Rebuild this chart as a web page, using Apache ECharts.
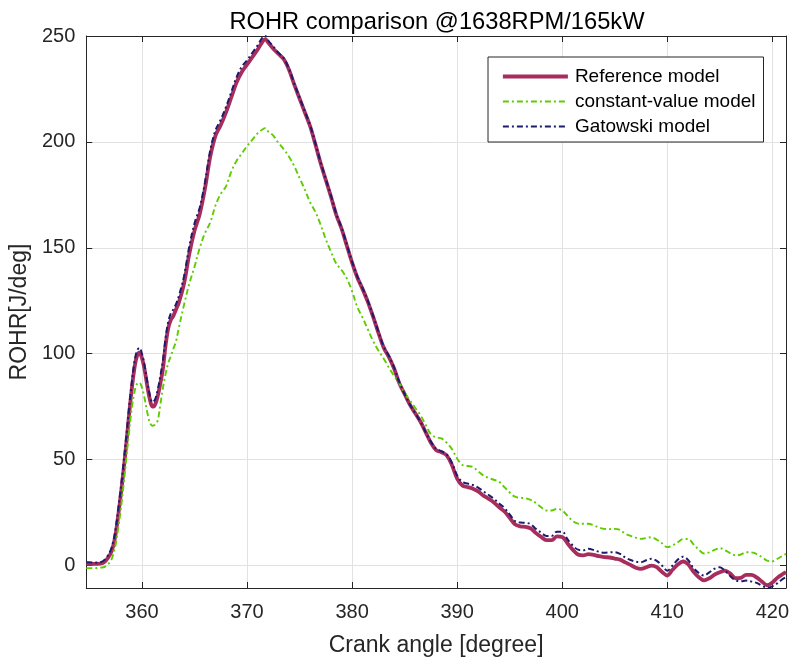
<!DOCTYPE html>
<html>
<head>
<meta charset="utf-8">
<script src="https://cdn.jsdelivr.net/npm/echarts@6/dist/echarts.min.js"></script>
<style>
  html, body { margin: 0; padding: 0; background: #fff; }
  #chart { width: 793px; height: 662px; }
</style>
</head>
<body>
<div id="chart"></div>
<script>
// Crank angle samples [degree]
const angle = [
  354.7, 355, 355.5, 356, 356.5,
  357, 357.25, 357.5, 357.75, 358, 358.25, 358.5, 358.75, 359, 359.25, 359.5, 359.75,
  360, 360.25, 360.5, 360.75, 361, 361.25, 361.5, 361.75, 362, 362.25, 362.5, 362.75,
  363, 363.25, 363.5, 364, 364.5, 365, 365.5, 366, 366.5, 367, 367.5, 368, 368.5,
  369, 369.5, 370, 370.5, 371, 371.5, 371.75, 372, 372.5, 373, 373.5, 374, 374.5,
  375, 375.5, 376, 376.5, 377, 377.5, 378, 378.5, 379, 379.5, 380, 380.5, 381, 381.5,
  382, 382.5, 383, 383.5, 384, 384.5, 385, 385.5, 386, 386.5, 387, 387.5, 388, 388.5,
  389, 389.5, 390, 390.5, 391, 391.5, 392, 392.5, 393, 393.5, 394, 394.5, 395, 395.5,
  396, 396.5, 397, 397.5, 398, 398.5, 399, 399.5, 400, 400.5, 401, 401.5, 402, 402.5,
  403, 403.5, 404, 404.5, 405, 405.5, 406, 406.5, 407, 407.5, 408, 408.5, 409, 409.5,
  410, 410.5, 411, 411.5, 412, 412.5, 413, 413.5, 414, 414.5, 415, 415.5, 416, 416.5,
  417, 417.5, 418, 418.5, 419, 419.5, 420, 420.5, 421, 421.3
];

// Rate of heat release [J/deg], reference model
const referenceModel = [
  0.8, 0.8, 0.8, 0.9, 2,
  5.5, 9, 15, 24, 34, 45, 57, 70, 82, 92, 98.5, 100.5,
  98, 92.5, 85, 78.5, 75, 76, 80, 86, 93, 104, 112, 116,
  118, 121, 124, 133, 147, 158, 166, 178, 193, 203, 208, 214, 221,
  228, 233, 236.5, 240, 243.5, 247.5, 248.5, 247, 244, 241.5, 239, 234, 227,
  220.5, 214, 207.5, 199, 190, 182, 174, 165.5, 159, 151, 143, 136, 130.5, 124.5,
  117.5, 110, 103, 98.5, 93, 86, 81, 76, 72, 68, 63, 58, 54.5, 53.5,
  52, 47.5, 41, 37.8, 37, 36.3, 35, 33, 31.5, 29.8, 27.5, 25.5, 22.5, 19.5,
  18.5, 18.3, 17.5, 15.3, 13.5, 12, 12, 13.8, 13.5, 10.5, 7.5, 5.2, 4.8, 5.4,
  5, 4.4, 4, 3.8, 3.3, 2.8, 1.5, 0.3, -1, -1.6, -0.8, 0, -0.8, -3,
  -4.7, -2, 0.5, 1.9, 0.5, -3, -5.5, -7, -6, -4.3, -3.2, -2.4, -3.8, -6,
  -5.8, -4.4, -4.4, -5.6, -7.5, -9.3, -8, -5.7, -4, -3.1
];

// Rate of heat release [J/deg], constant-value model
const constantValueModel = [
  -1.2, -1.2, -1.2, -1, -0.5,
  2, 5, 10, 18, 27, 38, 50, 62, 73, 81, 85.5, 86.4,
  84, 79, 72.5, 67.5, 66, 66.5, 68.5, 76, 84, 90.5, 95.5, 99,
  102.5, 106, 112, 123, 133, 141, 150, 157, 162, 170, 175.5, 179, 186,
  191, 194.5, 198, 201, 204, 206, 206.5, 205, 203, 199.5, 196.5, 193, 188.5,
  183, 177.5, 171.5, 167, 161, 154, 148, 142.5, 139.5, 135.5, 129.5, 122, 117, 111.5,
  106, 101.5, 97.8, 93.5, 89.5, 86, 81.5, 78, 74.5, 71, 66.5, 62, 60.5, 60,
  58, 55, 50.5, 47.5, 47, 46.5, 44.5, 42.5, 41.3, 40.5, 39.5, 37, 34.5, 32.5,
  32, 31.8, 31, 29.5, 27.5, 26, 26, 26.8, 26, 23.5, 21, 19.8, 19.7, 19.7,
  19, 18, 17.3, 17.2, 17.3, 16.8, 15, 14, 13.2, 12.6, 13, 13.4, 12.2, 10.5,
  8.7, 9.5, 11, 12.5, 12.5, 10, 7.5, 5.7, 6.2, 7.4, 8.2, 7.2, 5.8, 4.8,
  5.2, 6.3, 6.2, 5.5, 4, 2.3, 2, 3.2, 4.7, 5.5
];

// Rate of heat release [J/deg], Gatowski model
const gatowskiModel = [
  1.5, 1.5, 1.4, 1.5, 3,
  7, 11, 17.5, 27, 37, 48.5, 60.5, 73.5, 85, 95, 101, 102.8,
  100, 94.5, 87, 80.5, 77, 78.5, 83, 89.5, 97, 107.5, 115, 119,
  121, 123.5, 127, 136.5, 150.5, 161.5, 169, 181, 196, 205.5, 210.5, 216.5, 223.5,
  230.5, 235.5, 238.5, 242, 245.5, 249.5, 250, 248, 245, 242, 239.5, 234.5, 227.5,
  221, 214.5, 208, 199.5, 190.5, 182.5, 174.5, 166, 159.5, 151.5, 143.5, 136.5, 131, 125,
  118, 110.5, 103.5, 99, 93.5, 86.5, 81, 76, 72, 68, 63, 58.5, 55, 54,
  52.5, 48.5, 42.5, 39.5, 38.7, 38, 36.8, 35, 33.3, 31.5, 29.3, 27.2, 24.2, 21,
  20.3, 20.2, 19.5, 17.3, 15.5, 14, 14, 16, 16, 12.5, 9.5, 7.5, 7.2, 7.9,
  7.3, 6.5, 6, 6.2, 6.3, 5.5, 3.8, 2.6, 1.8, 1.6, 2.5, 3.2, 2.2, 0,
  -2.4, 0, 2.8, 4.2, 2.5, -1.2, -3.5, -4.7, -3.2, -1.5, -0.8, -2.5, -5, -7,
  -7.4, -7.1, -7.5, -8.2, -9.5, -10.5, -9.8, -8.3, -6.3, -5.5
];

const seriesNames = ['Reference model', 'constant-value model', 'Gatowski model'];

const xRange = [354.7, 421.3];
const yRange = [-10.6, 250];

const pairs = (ys) => angle.map((a, i) => [a, ys[i]]);

const axisColor = '#262626';
const gridColor = '#e2e2e2';
const fontFamily = '"Liberation Sans", Arial, Helvetica, sans-serif';

const chart = echarts.init(document.getElementById('chart'), null, { renderer: 'canvas' });

const baseAxis = {
  axisLine: { show: true, onZero: false, lineStyle: { color: axisColor, width: 1 } },
  axisTick: { show: true, inside: true, length: 6, lineStyle: { color: axisColor } },
  splitLine: { show: false },
  splitNumber: 6
};

chart.setOption({
  animation: false,
  backgroundColor: '#ffffff',
  textStyle: { fontFamily: fontFamily },
  title: {
    text: 'ROHR comparison @1638RPM/165kW',
    left: 432,
    textAlign: 'center',
    top: 5,
    textStyle: { fontFamily: fontFamily, fontSize: 23.7, fontWeight: 'normal', color: '#000' }
  },
  grid: { left: 84, right: 7, top: 36, bottom: 73, containLabel: false },
  legend: {
    data: seriesNames,
    orient: 'vertical',
    left: 488,
    top: 57,
    padding: [10, 8, 6, 13],
    itemGap: 6,
    itemWidth: 65,
    itemHeight: 14,
    backgroundColor: '#ffffff',
    borderColor: axisColor,
    borderWidth: 1,
    borderRadius: 0,
    itemStyle: { opacity: 0 },
    lineStyle: { width: 'inherit' },
    textStyle: { fontFamily: fontFamily, fontSize: 19, color: '#000', padding: [0, 0, 0, 2] }
  },
  xAxis: [
    Object.assign({}, baseAxis, {
      type: 'value',
      position: 'bottom',
      min: xRange[0],
      max: xRange[1],
      name: 'Crank angle [degree]',
      nameLocation: 'middle',
      nameGap: 46,
      nameTextStyle: { fontFamily: fontFamily, fontSize: 23, color: axisColor },
      axisLabel: { fontFamily: fontFamily, fontSize: 20, color: axisColor, margin: 14,
                   showMinLabel: false, showMaxLabel: false },
      splitLine: { show: true, lineStyle: { color: gridColor, width: 1 } }
    }),
    Object.assign({}, baseAxis, {
      type: 'value',
      position: 'top',
      min: xRange[0],
      max: xRange[1],
      axisLabel: { show: false }
    })
  ],
  yAxis: [
    Object.assign({}, baseAxis, {
      type: 'value',
      position: 'left',
      min: yRange[0],
      max: yRange[1],
      splitNumber: 5,
      name: 'ROHR[J/deg]',
      nameLocation: 'middle',
      nameGap: 52,
      nameTextStyle: { fontFamily: fontFamily, fontSize: 23, color: axisColor },
      axisLabel: { fontFamily: fontFamily, fontSize: 20, color: axisColor, margin: 11,
                   showMinLabel: false },
      splitLine: { show: true, lineStyle: { color: gridColor, width: 1 } }
    }),
    Object.assign({}, baseAxis, {
      type: 'value',
      position: 'right',
      min: yRange[0],
      max: yRange[1],
      splitNumber: 5,
      axisLabel: { show: false }
    })
  ],
  series: [
    {
      name: seriesNames[0],
      type: 'line',
      xAxisIndex: 0, yAxisIndex: 0,
      data: pairs(referenceModel),
      symbol: 'none',
      smooth: 0.35,
      lineStyle: { color: '#a72d5c', width: 3.8 },
      itemStyle: { color: '#a72d5c' },
      z: 2
    },
    {
      name: seriesNames[1],
      type: 'line',
      xAxisIndex: 0, yAxisIndex: 0,
      data: pairs(constantValueModel),
      symbol: 'none',
      smooth: 0.35,
      lineStyle: { color: '#5fcc00', width: 1.9, type: [6, 3, 2, 3] },
      itemStyle: { color: '#5fcc00' },
      z: 3
    },
    {
      name: seriesNames[2],
      type: 'line',
      xAxisIndex: 0, yAxisIndex: 0,
      data: pairs(gatowskiModel),
      symbol: 'none',
      smooth: 0.35,
      lineStyle: { color: '#1c1c6e', width: 2, type: [6, 3, 2, 3] },
      itemStyle: { color: '#1c1c6e' },
      z: 4
    }
  ]
});
</script>
</body>
</html>
